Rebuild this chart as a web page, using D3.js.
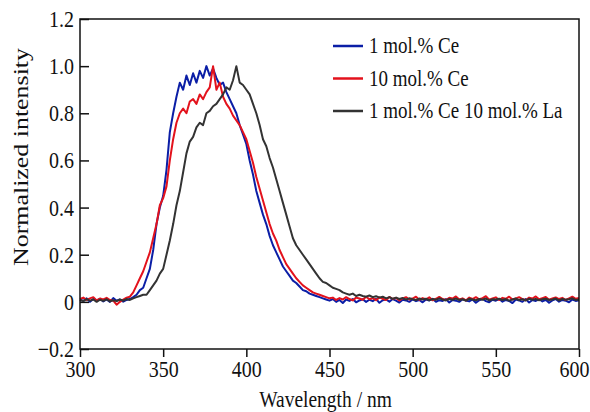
<!DOCTYPE html>
<html>
<head>
<meta charset="utf-8">
<script src="https://cdn.jsdelivr.net/npm/d3@7"></script>
<style>
    body { margin: 0; background: #fff; }
    svg text { font-family: "Liberation Serif", "Times New Roman", serif; fill: #111; }
</style>
</head>
<body>
<svg width="590" height="412"></svg>
<script>
// wavelength grid (nm), 2 nm step
let wavelengths = d3.range(300, 601, 2);

// 1 mol.% Ce
let ce1 = [
    .010, .004, .015, .000, .012, .006, .013, .002, .010, .000,
    .016, .005, .010, .001, .008, .012, .020, .030, .050, .060,
    .100, .140, .220, .330, .400, .450, .560, .720, .800, .870,
    .930, .900, .960, .920, .970, .930, .980, .950, 1.00, .960,
    .990, .950, .920, .930, .890, .860, .830, .800, .750, .710,
    .670, .600, .540, .470, .420, .370, .330, .280, .240, .210,
    .180, .150, .130, .110, .090, .080, .065, .050, .045, .035,
    .030, .025, .020, .015, .010, .005, .012, .000, .008, -.005,
    .010, .004, .012, -.002, .006, .011, .000, .009, .003, .013,
    -.004, .007, .010, .001, .012, .005, -.003, .009, .006, .000,
    .011, .003, .008, -.002, .010, .006, .013, .000, .007, .004,
    .012, -.003, .008, .005, .000, .011, .006, .002, .010, -.004,
    .007, .013, .003, -.002, .009, .005, .012, .001, .008, .004,
    -.005, .010, .006, .000, .012, -.003, .008, .004, .011, .002,
    .009, -.004, .006, .012, .001, .008, .005, -.002, .010, .004,
    .007
];

// 10 mol.% Ce
let ce10 = [
    .012, .018, .008, .015, .020, .006, .014, .010, .017, .008,
    .005, -.012, .000, .010, .018, .022, .040, .070, .100, .130,
    .170, .210, .270, .330, .410, .440, .490, .600, .690, .760,
    .800, .820, .800, .850, .860, .840, .880, .860, .890, .910,
    1.00, .900, .930, .870, .840, .820, .790, .770, .750, .720,
    .690, .640, .590, .530, .480, .430, .380, .330, .290, .260,
    .220, .190, .160, .140, .120, .100, .085, .070, .060, .050,
    .040, .035, .030, .025, .020, .015, .018, .008, .016, .010,
    .020, .012, .006, .018, .014, .009, .022, .011, .016, .007,
    .019, .013, .008, .021, .012, .017, .006, .015, .020, .010,
    .014, .022, .009, .016, .011, .019, .007, .013, .021, .012,
    .008, .017, .014, .023, .010, .015, .006, .018, .012, .020,
    .011, .016, .024, .009, .014, .019, .008, .017, .013, .022,
    .010, .015, .020, .012, .007, .018, .014, .023, .011, .016,
    .021, .009, .014, .019, .012, .017, .008, .015, .022, .013,
    .016
];

// 1 mol.% Ce 10 mol.% La
let ceLa = [
    .008, .003, .012, .005, .010, .000, .009, .004, .011, .002,
    .007, .003, .010, .005, .012, .008, .015, .020, .025, .030,
    .030, .050, .070, .090, .120, .140, .200, .260, .330, .410,
    .470, .550, .630, .680, .700, .740, .760, .750, .800, .810,
    .830, .840, .860, .880, .910, .900, .940, 1.00, .930, .920,
    .900, .880, .840, .800, .750, .690, .660, .610, .570, .520,
    .470, .420, .370, .320, .270, .240, .220, .200, .180, .160,
    .140, .120, .100, .085, .080, .070, .060, .055, .050, .040,
    .035, .030, .035, .025, .030, .025, .022, .027, .020, .024,
    .018, .022, .015, .020, .013, .018, .012, .016, .010, .015,
    .011, .008, .014, .010, .013, .007, .012, .009, .015, .010,
    .006, .012, .009, .014, .008, .011, .005, .013, .010, .007,
    .012, .009, .014, .006, .011, .010, .013, .008, .012, .005,
    .010, .014, .008, .011, .006, .013, .009, .012, .007, .011,
    .013, .008, .010, .014, .006, .012, .009, .011, .015, .008,
    .010
];

let seriesNames = ["1 mol.% Ce", "10 mol.% Ce", "1 mol.% Ce 10 mol.% La"];
let seriesColors = ["#0b1ea6", "#e3121c", "#333333"];
let xTicks = [300, 350, 400, 450, 500, 550, 600];
let yTicks = [-0.2, 0, 0.2, 0.4, 0.6, 0.8, 1.0, 1.2];

let svg = d3.select("svg");
let plotLeft = 80, plotRight = 579, plotTop = 19, plotBottom = 349;
let stretch = 1.18;

let x = d3.scaleLinear().domain([300, 600]).range([plotLeft, plotRight]);
let y = d3.scaleLinear().domain([-0.2, 1.2]).range([plotBottom, plotTop]);

// y axis, ticks pointing inward
let yAxis = svg.append("g")
    .attr("transform", "translate(" + plotLeft + ",0)")
    .call(d3.axisLeft(y).tickValues(yTicks).tickSizeInner(-9).tickSizeOuter(0)
        .tickFormat(function (d) { return d === 0 ? "0" : d3.format(".1f")(d); }));
yAxis.select(".domain").remove();
yAxis.selectAll("line").attr("stroke", "#111").attr("stroke-width", 1.5);
yAxis.selectAll("text")
    .attr("x", null).attr("dy", null)
    .attr("font-size", 20)
    .attr("transform", "translate(-6,7.5) scale(1," + stretch + ")");

// x axis, ticks pointing outward
let xAxis = svg.append("g")
    .attr("transform", "translate(0," + plotBottom + ")")
    .call(d3.axisBottom(x).tickValues(xTicks).tickSizeInner(8).tickSizeOuter(0));
xAxis.select(".domain").remove();
xAxis.selectAll("line").attr("stroke", "#111").attr("stroke-width", 1.5);
xAxis.selectAll("text")
    .attr("y", null).attr("dy", null)
    .attr("font-size", 20)
    .attr("transform", function (d) {
        // last label is pushed in a little so it stays inside the page
        let dx = d === 600 ? -5 : 0;
        return "translate(" + dx + ",28) scale(1," + stretch + ")";
    });

// data lines
let line = d3.line()
    .x(function (d, i) { return x(wavelengths[i]); })
    .y(function (d) { return y(d); });

[ce1, ce10, ceLa].forEach(function (values, k) {
    svg.append("path")
        .datum(values)
        .attr("fill", "none")
        .attr("stroke", seriesColors[k])
        .attr("stroke-width", 2)
        .attr("stroke-linejoin", "round")
        .attr("d", line);
});

// frame
svg.append("rect")
    .attr("x", plotLeft).attr("y", plotTop)
    .attr("width", plotRight - plotLeft).attr("height", plotBottom - plotTop)
    .attr("fill", "none")
    .attr("stroke", "#111")
    .attr("stroke-width", 1.5);

// legend
let legend = svg.append("g").selectAll("g")
    .data(seriesNames)
    .enter().append("g")
    .attr("transform", function (d, i) { return "translate(333," + (46 + i * 32.5) + ")"; });
legend.append("line")
    .attr("x1", 0).attr("x2", 30)
    .attr("stroke", function (d, i) { return seriesColors[i]; })
    .attr("stroke-width", 2.5);
legend.append("text")
    .attr("font-size", 19)
    .attr("transform", "translate(36,7) scale(1," + stretch + ")")
    .text(function (d) { return d; });

// axis titles
svg.append("text")
    .attr("font-size", 19.5)
    .attr("text-anchor", "middle")
    .attr("transform", "translate(" + ((plotLeft + plotRight) / 2 - 4) + ",407) scale(1," + stretch + ")")
    .text("Wavelength / nm");

svg.append("text")
    .attr("font-size", 21)
    .attr("text-anchor", "middle")
    .attr("textLength", 218)
    .attr("lengthAdjust", "spacingAndGlyphs")
    .attr("transform", "translate(28,157) rotate(-90)")
    .text("Normalized intensity");
</script>
</body>
</html>
